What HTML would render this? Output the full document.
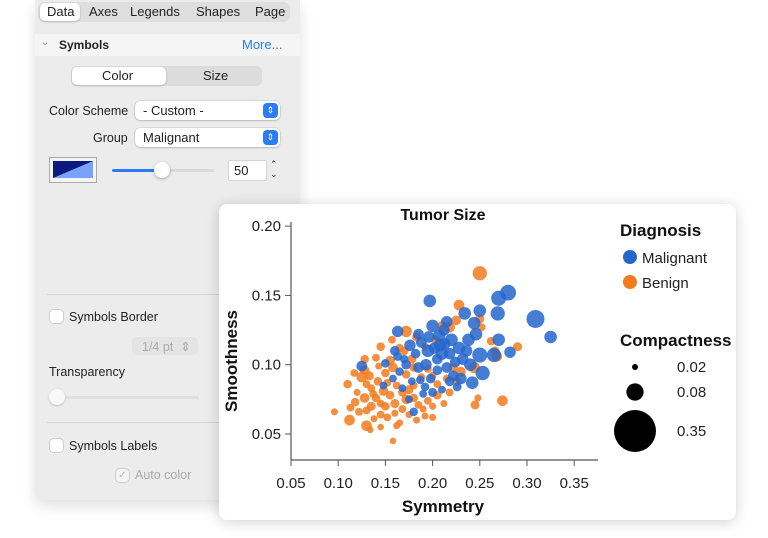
<!DOCTYPE html>
<html><head><meta charset="utf-8">
<style>
body{margin:0;width:768px;height:538px;background:#fff;font-family:"Liberation Sans",sans-serif;position:relative;overflow:hidden}
.panel{position:absolute;left:35px;top:0;width:265px;height:500px;background:#ececec;border-radius:0 0 8px 8px;box-shadow:0 6px 14px rgba(0,0,0,.12)}
.abs{position:absolute}
.t{font-size:12.5px;color:#222;position:absolute;white-space:nowrap}
.tabs{position:absolute;left:3px;top:2px;width:252px;height:20px;background:#dedede;border-radius:6px}
.tab{position:absolute;top:2px;font-size:13px;color:#222}
.sel{position:absolute;background:#fff;border-radius:5px;box-shadow:0 1px 2px rgba(0,0,0,.2)}
.pop{position:absolute;background:#fff;border-radius:5px;box-shadow:0 0 0 .5px rgba(0,0,0,.15),0 1px 2px rgba(0,0,0,.15);height:19px}
.pbtn{position:absolute;right:2px;top:2px;width:15px;height:15px;background:#2c7cf6;border-radius:4px;color:#fff;font-size:9px;text-align:center;line-height:15px}
.cb{position:absolute;width:13px;height:13px;background:#fff;border-radius:3px;box-shadow:0 0 0 .5px rgba(0,0,0,.25)}
.card{position:absolute;left:219px;top:204px;width:517px;height:316px;background:#fff;border-radius:8px;box-shadow:0 2px 14px rgba(0,0,0,.18)}
</style></head><body>
<div class="panel">
 <div class="tabs">
  <div class="sel" style="left:2px;top:1px;width:40px;height:18px"></div>
  <span class="tab" style="left:9px">Data</span>
  <span class="tab" style="left:51px">Axes</span>
  <span class="tab" style="left:92px">Legends</span>
  <span class="tab" style="left:158px">Shapes</span>
  <span class="tab" style="left:217px">Page</span>
 </div>
 <div class="abs" style="left:0;top:34px;width:265px;height:22px;background:#f5f5f5"></div>
 <span class="t" style="left:6px;top:37px;color:#999;font-size:10px">&#8964;</span>
 <span class="t" style="left:24px;top:38px;font-weight:bold;font-size:12px">Symbols</span>
 <span class="t" style="left:207px;top:37px;color:#2c7cf6;font-size:13px">More...</span>
 <div class="abs" style="left:36px;top:66px;width:191px;height:20px;background:#dcdcdc;border-radius:5px"></div>
 <div class="sel" style="left:37px;top:67px;width:94px;height:18px"></div>
 <span class="t" style="left:67px;top:68px;font-size:13px">Color</span>
 <span class="t" style="left:168px;top:68px;font-size:13px">Size</span>
 <span class="t" style="left:14px;top:104px">Color Scheme</span>
 <div class="pop" style="left:100px;top:101px;width:145px"><span class="t" style="left:8px;top:2px;font-size:13px">- Custom -</span><div class="pbtn">⇕</div></div>
 <span class="t" style="left:58px;top:131px">Group</span>
 <div class="pop" style="left:100px;top:128px;width:145px"><span class="t" style="left:8px;top:2px;font-size:13px">Malignant</span><div class="pbtn">⇕</div></div>
 <div class="abs" style="left:15px;top:158px;width:46px;height:24px;background:#f4f4f4;box-shadow:0 0 0 1px #aaa">
  <svg width="40" height="17" style="position:absolute;left:3px;top:3px"><rect width="40" height="17" fill="#7aa2f7"/><polygon points="0,0 40,0 0,17" fill="#0a1a80"/></svg></div>
 <div class="abs" style="left:77px;top:169px;width:102px;height:3px;background:#dadada;border-radius:2px"></div>
 <div class="abs" style="left:77px;top:169px;width:50px;height:3px;background:#2c7cf6;border-radius:2px"></div>
 <div class="abs" style="left:119px;top:162px;width:16px;height:16px;background:#fff;border-radius:50%;box-shadow:0 1px 3px rgba(0,0,0,.3)"></div>
 <div class="abs" style="left:194px;top:161px;width:37px;height:19px;background:#fff;box-shadow:0 0 0 .5px rgba(0,0,0,.2)"><span class="t" style="left:5px;top:2px;font-size:13px">50</span></div>
 <span class="t" style="left:235px;top:159px;font-size:9px;line-height:10px">⌃<br>⌄</span>
 <div class="abs" style="left:12px;top:294px;width:253px;height:1px;background:#d6d6d6"></div>
 <div class="cb" style="left:15px;top:310px"></div>
 <span class="t" style="left:34px;top:310px">Symbols Border</span>
 <div class="abs" style="left:97px;top:337px;width:66px;height:18px;background:#e4e4e4;border-radius:5px"><span class="t" style="left:10px;top:2px;color:#aaa">1/4 pt &nbsp;⇕</span></div>
 <span class="t" style="left:14px;top:365px">Transparency</span>
 <div class="abs" style="left:14px;top:396px;width:150px;height:3px;background:#e0e0e0"></div>
 <div class="abs" style="left:14px;top:389px;width:16px;height:16px;background:#f8f8f8;border-radius:50%;box-shadow:0 1px 2px rgba(0,0,0,.2)"></div>
 <div class="abs" style="left:12px;top:422px;width:253px;height:1px;background:#d6d6d6"></div>
 <div class="cb" style="left:15px;top:439px"></div>
 <span class="t" style="left:34px;top:439px">Symbols Labels</span>
 <div class="cb" style="left:81px;top:469px;background:#f4f4f4;color:#bbb;font-size:10px;text-align:center;line-height:13px">✓</div>
 <span class="t" style="left:100px;top:468px;color:#aaa">Auto color</span>
</div>
<div class="card"></div>
<svg id="chart" width="768" height="538" style="position:absolute;left:0;top:0" font-family="Liberation Sans, sans-serif"></svg>
<script>
const symmetry=[0.197,0.250,0.270,0.280,0.309,0.325,0.244,0.234,0.215,0.269,0.250,0.253,0.242,0.282,0.270,0.265,0.163,0.125,0.180,0.190,0.200,0.207,0.213,0.220,0.228,0.232,0.224,0.210,0.202,0.195,0.188,0.182,0.176,0.172,0.185,0.193,0.205,0.215,0.222,0.230,0.198,0.187,0.170,0.160,0.150,0.165,0.178,0.205,0.212,0.238,0.246,0.236,0.218,0.226,0.196,0.185,0.240,0.148,0.158,0.168,0.192,0.200,0.210,0.175,0.163,0.208,0.218,
0.250,0.228,0.250,0.172,0.290,0.274,0.245,0.248,0.096,0.110,0.112,0.130,0.158,0.134,0.145,0.162,0.128,0.128,0.125,0.133,0.140,0.145,0.155,0.165,0.158,0.150,0.142,0.135,0.128,0.118,0.113,0.122,0.135,0.140,0.148,0.155,0.160,0.150,0.145,0.138,0.152,0.160,0.168,0.172,0.168,0.175,0.180,0.185,0.190,0.195,0.200,0.205,0.212,0.218,0.175,0.183,0.192,0.200,0.165,0.172,0.180,0.178,0.170,0.183,0.192,0.203,0.210,0.218,0.225,0.222,0.226,0.230,0.244,0.262,0.266,0.268,0.252,0.200,0.195,0.188,0.120,0.117,0.130,0.143,0.152,0.162,0.157,0.137,0.130,0.145,0.205,0.215,0.180];
const smoothness=[0.146,0.139,0.148,0.152,0.133,0.120,0.130,0.137,0.131,0.137,0.107,0.094,0.087,0.109,0.118,0.107,0.124,0.099,0.066,0.079,0.128,0.121,0.115,0.118,0.112,0.104,0.102,0.108,0.112,0.110,0.116,0.108,0.114,0.100,0.098,0.100,0.096,0.098,0.092,0.090,0.090,0.089,0.104,0.110,0.101,0.095,0.088,0.104,0.125,0.118,0.122,0.110,0.088,0.084,0.120,0.122,0.100,0.085,0.090,0.083,0.084,0.080,0.082,0.075,0.106,0.114,0.108,
0.166,0.143,0.133,0.124,0.113,0.074,0.071,0.076,0.066,0.086,0.060,0.056,0.045,0.053,0.055,0.056,0.104,0.096,0.091,0.092,0.105,0.113,0.103,0.112,0.098,0.094,0.088,0.083,0.076,0.073,0.069,0.066,0.070,0.076,0.081,0.078,0.072,0.070,0.064,0.061,0.062,0.065,0.068,0.075,0.080,0.082,0.076,0.071,0.068,0.074,0.070,0.078,0.072,0.080,0.064,0.060,0.063,0.062,0.058,0.093,0.098,0.104,0.110,0.120,0.113,0.118,0.128,0.127,0.132,0.098,0.088,0.095,0.098,0.117,0.110,0.106,0.127,0.092,0.097,0.091,0.080,0.094,0.086,0.099,0.087,0.085,0.118,0.079,0.067,0.072,0.086,0.090,0.085];
const compactness=[.05,.05,.065,.07,.085,.05,.05,.05,.044,.06,
.065,.06,.05,.044,.05,.06,.044,.04,.03,.027,
.05,.05,.044,.05,.05,.044,.04,.05,.044,.05,
.04,.035,.044,.035,.04,.044,.035,.04,.04,.044,
.035,.03,.03,.035,.03,.03,.027,.04,.044,.05,
.05,.044,.035,.032,.044,.04,.05,.027,.027,.027,
.03,.032,.027,.027,.032,.05,.044,
.06,.04,.032,.044,.032,.04,.032,.024,.024,.03,
.04,.04,.022,.022,.022,.024,.03,.035,.04,.032,
.027,.03,.035,.03,.035,.03,.03,.027,.035,.03,
.027,.027,.032,.03,.035,.03,.032,.03,.027,.024,
.027,.024,.027,.035,.03,.032,.03,.027,.024,.027,
.024,.03,.024,.027,.024,.024,.024,.024,.024,.03,
.03,.032,.03,.032,.027,.03,.035,.04,.035,.032,
.03,.035,.044,.03,.032,.04,.027,.027,.027,.027,
.024,.027,.027,.024,.027,.027,.027,.027,.027,.027,
.027,.027,.027];
const diagnosis=Array(67).fill('Malignant').concat(Array(93).fill('Benign'));
const xTicks=[0.05,0.10,0.15,0.20,0.25,0.30,0.35];
const yTicks=[0.05,0.10,0.15,0.20];
const sizeLegend=[0.02,0.08,0.35];
const svg=document.getElementById('chart');
const NS='http://www.w3.org/2000/svg';
const xs=v=>291+(v-0.05)*944;
const ys=v=>434-(v-0.05)*1386;
const rs=s=>3+18*(Math.sqrt(s)-Math.sqrt(0.02))/(Math.sqrt(0.35)-Math.sqrt(0.02));
const col={Malignant:'#2566cc',Benign:'#f47a1f'};
function mk(tag,a,txt){const e=document.createElementNS(NS,tag);for(const k in a)e.setAttribute(k,a[k]);if(txt!=null)e.textContent=txt;svg.appendChild(e);return e;}
let e;
e=mk('text',{x:443,y:220,'text-anchor':'middle','font-size':16,'font-weight':'bold',fill:'#111'},'Tumor Size');


e=mk('line',{x1:291,y1:222,x2:291,y2:460,stroke:'#555','stroke-width':1.2});


e=mk('line',{x1:291,y1:460,x2:598,y2:460,stroke:'#555','stroke-width':1.2});


xTicks.forEach(t=>{mk('line',{x1:xs(t),y1:460,x2:xs(t),y2:466,stroke:'#555'});
e=mk('text',{x:xs(t),y:488,'text-anchor':'middle','font-size':15,fill:'#222'},t.toFixed(2));

});
yTicks.forEach(t=>{mk('line',{x1:285,y1:ys(t),x2:291,y2:ys(t),stroke:'#555'});
e=mk('text',{x:281,y:ys(t)+5,'text-anchor':'end','font-size':15,fill:'#222'},t.toFixed(2));

});
e=mk('text',{x:443,y:512,'text-anchor':'middle','font-size':17,'font-weight':'bold',fill:'#111'},'Symmetry');


e=mk('text',{x:0,y:0,transform:'translate(237,361) rotate(-90)','text-anchor':'middle','font-size':17,'font-weight':'bold',fill:'#111'},'Smoothness');


const order=[];for(let i=67;i<160;i++)order.push(i);for(let i=0;i<67;i++)order.push(i);
order.forEach(i=>{e=mk('circle',{cx:xs(symmetry[i]),cy:ys(smoothness[i]),r:rs(compactness[i]),fill:col[diagnosis[i]],'fill-opacity':0.85});

});
e=mk('text',{x:620,y:236,'font-size':17,'font-weight':'bold',fill:'#111'},'Diagnosis');


['Malignant','Benign'].forEach((g,k)=>{mk('circle',{cx:630,cy:257+k*25,r:7,fill:col[g]});
e=mk('text',{x:642,y:263+k*25,'font-size':15,fill:'#222'},g);

});
e=mk('text',{x:620,y:346,'font-size':17,'font-weight':'bold',fill:'#111'},'Compactness');


const sy=[367,392,431];
sizeLegend.forEach((s,k)=>{mk('circle',{cx:635,cy:sy[k],r:rs(s),fill:'#000'});
e=mk('text',{x:677,y:sy[k]+5,'font-size':15,fill:'#222'},s.toFixed(2));

});
</script>
</body></html>
